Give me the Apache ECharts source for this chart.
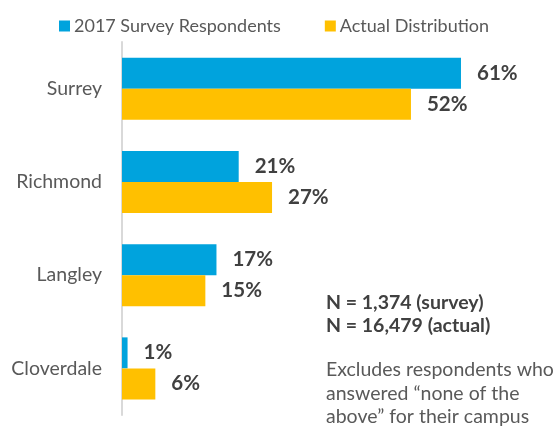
<!DOCTYPE html>
<html><head><meta charset="utf-8">
<script src="https://cdn.jsdelivr.net/npm/echarts@6/dist/echarts.min.js"></script>
<style>html,body{margin:0;padding:0;background:#fff}#c{width:558px;height:439px}</style>
</head><body><div id="c"></div>
<script>
var categories = ['Surrey', 'Richmond', 'Langley', 'Cloverdale'];
var surveyValues = [61, 21, 17, 1];
var actualValues = [52, 27, 15, 6];
var seriesNames = ['2017 Survey Respondents', 'Actual Distribution'];
var noteLines = ['N = 1,374 (survey)', 'N = 16,479 (actual)'];
var footLines = ['Excludes respondents who', 'answered \u201cnone of the', 'above\u201d for their campus'];

var FONT = 'Lato';
var chart = echarts.init(document.getElementById('c'), null, {renderer: 'canvas'});
var labelCfg = {
  show: true, position: 'right', distance: 16,
  formatter: '{c}%', fontFamily: FONT, fontWeight: 'bold', fontSize: 20.5, color: '#404040'
};
chart.setOption({
  animation: false,
  legend: {
    top: 12, left: 54, itemWidth: 11, itemHeight: 11, itemGap: 44,
    icon: 'rect',
    textStyle: {fontFamily: FONT, fontSize: 18, color: '#595959', padding: [0, 0, 0, -1]},
    data: seriesNames
  },
  grid: {left: 122, right: 47, top: 42, bottom: 24, containLabel: false},
  xAxis: {type: 'value', min: 0, max: 70, show: false},
  yAxis: {
    type: 'category', data: categories, inverse: true,
    axisLine: {show: true, lineStyle: {color: '#d9d9d9', width: 2}},
    axisTick: {show: false},
    axisLabel: {fontFamily: FONT, fontSize: 19.5, color: '#595959', margin: 20}
  },
  series: [
    {name: seriesNames[0], type: 'bar', data: surveyValues, barWidth: 31, barGap: '0%',
     itemStyle: {color: '#00a3dd'}, label: labelCfg},
    {name: seriesNames[1], type: 'bar', data: actualValues, barWidth: 31,
     itemStyle: {color: '#ffc000'}, label: labelCfg}
  ],
  graphic: [
    {type: 'text', left: 326, top: 291, style: {text: noteLines.join('\n'), fontFamily: FONT, fontWeight: 'bold', fontSize: 19.5, lineHeight: 23, fill: '#404040'}},
    {type: 'text', left: 326, top: 358, style: {text: footLines.join('\n'), fontFamily: FONT, fontSize: 19.5, lineHeight: 23.5, fill: '#595959'}}
  ]
});
</script></body></html>
